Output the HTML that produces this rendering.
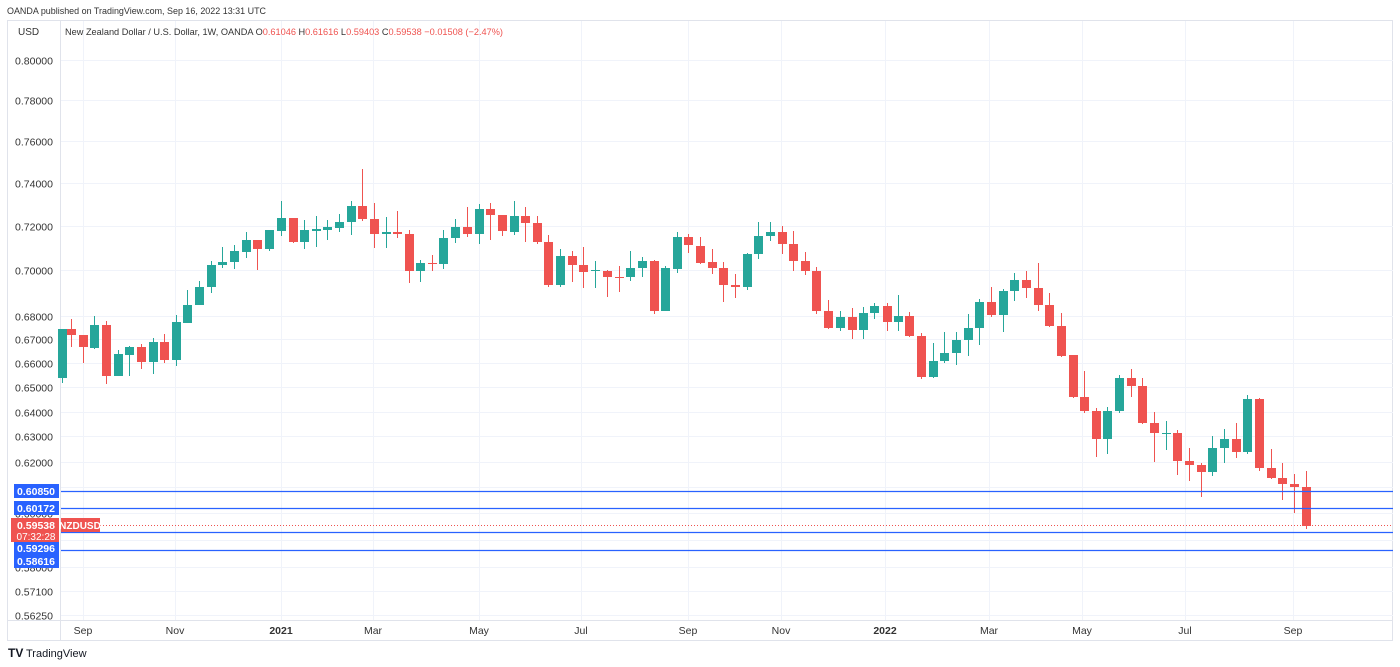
<!DOCTYPE html>
<html><head><meta charset="utf-8"><style>
body{margin:0;background:#fff;width:1400px;height:667px;overflow:hidden;font-family:"Liberation Sans",sans-serif}
svg{position:absolute;left:0;top:0}
</style></head><body>
<svg id="s" width="1400" height="667" viewBox="0 0 1400 667" font-family="Liberation Sans, sans-serif">
<rect width="1400" height="667" fill="#fff"/>
<text x="7" y="14" font-size="9.5" fill="#333" textLength="259" lengthAdjust="spacingAndGlyphs">OANDA published on TradingView.com, Sep 16, 2022 13:31 UTC</text>
<rect x="7.5" y="20.5" width="1385" height="620" fill="none" stroke="#e0e3eb"/>
<g id="grid"></g>
<line x1="60.5" y1="20" x2="60.5" y2="640" stroke="#e0e3eb"/>
<line x1="7" y1="620.5" x2="1393" y2="620.5" stroke="#e0e3eb"/>
<text x="18" y="35" font-size="10" fill="#333">USD</text>
<text x="65" y="35" font-size="9.5" fill="#333" textLength="438" lengthAdjust="spacingAndGlyphs">New Zealand Dollar / U.S. Dollar, 1W, OANDA  O<tspan fill="#ef5350">0.61046</tspan>  H<tspan fill="#ef5350">0.61616</tspan>  L<tspan fill="#ef5350">0.59403</tspan>  C<tspan fill="#ef5350">0.59538</tspan>  <tspan fill="#ef5350">−0.01508 (−2.47%)</tspan></text>
<g id="c"></g>
<g id="ov"></g>
<text x="8" y="657" font-size="12" font-weight="bold" fill="#131722">TV</text>
<text x="26" y="657" font-size="11" fill="#131722">TradingView</text>
</svg>
<script>
var ns="http://www.w3.org/2000/svg";
function el(p,t,a,txt){var e=document.createElementNS(ns,t);for(var k in a)e.setAttribute(k,a[k]);if(txt)e.textContent=txt;document.getElementById(p).appendChild(e);return e;}
function Y(p){return 60+1576*Math.log(0.8/p);}
var lv=[["0.80000",.8],["0.78000",.78],["0.76000",.76],["0.74000",.74],["0.72000",.72],["0.70000",.70],["0.68000",.68],["0.67000",.67],["0.66000",.66],["0.65000",.65],["0.64000",.64],["0.63000",.63],["0.62000",.62],["0.61000",.61],["0.60000",.60],["0.59000",.59],["0.58000",.58],["0.57100",.571],["0.56250",.5625]];
lv.forEach(function(l){var y=Math.round(Y(l[1]))+.5;el("grid","line",{x1:61,x2:1393,y1:y,y2:y,stroke:"#f0f3fa"});el("grid","text",{x:53,y:y+4,"font-size":10.5,fill:"#333","text-anchor":"end"},l[0]);});
var mo=[["Sep",83],["Nov",175],["2021",281],["Mar",373],["May",479],["Jul",581],["Sep",688],["Nov",781],["2022",885],["Mar",989],["May",1082],["Jul",1185],["Sep",1293]];
mo.forEach(function(m){el("grid","line",{x1:m[1]+.5,x2:m[1]+.5,y1:21,y2:620,stroke:"#f0f3fa"});el("grid","text",{x:m[1],y:634,"font-size":10.5,fill:"#333","text-anchor":"middle","font-weight":(m[0].length==4?"bold":"normal")},m[0]);});
var d=[[62,1,329,378,329,383],[71,0,329,335,319,347],[83,0,335,347,335,363],[94,1,325,348,316,349],[106,0,325,376,321,384],[118,1,354,376,350,376],[129,1,347,355,346,376],[141,0,347,362,344,369],[153,1,342,362,338,374],[164,0,342,360,334,363],[176,1,322,360,315,366],[187,1,305,323,290,323],[199,1,287,305,281,305],[211,1,265,287,261,293],[222,1,262,265,247,268],[234,1,251,262,245,269],[246,1,240,252,232,258],[257,0,240,249,240,270],[269,1,230,249,230,251],[281,1,218,231,201,236],[293,0,218,242,218,243],[304,1,230,242,220,249],[316,1,229,231,216,247],[327,1,227,230,220,240],[339,1,222,228,214,232],[351,1,206,222,201,235],[362,0,206,219,169,221],[374,0,219,234,203,248],[386,1,232,234,217,248],[397,0,232,234,211,238],[409,0,234,271,230,283],[420,1,263,271,260,282],[432,0,263,264,255,271],[443,1,238,264,230,269],[455,1,227,238,219,243],[467,0,227,234,207,237],[479,1,209,234,204,244],[490,0,209,215,203,240],[502,0,215,231,215,236],[514,1,216,232,201,235],[525,0,216,223,207,242],[537,0,223,242,216,244],[548,0,242,285,235,287],[560,1,256,285,249,287],[572,0,256,265,251,282],[583,0,265,272,247,288],[595,1,270,271,261,288],[607,0,271,277,270,297],[619,0,277,278,266,292],[630,1,268,277,251,281],[642,1,261,268,257,277],[654,0,261,311,260,314],[665,1,268,311,266,311],[677,1,237,269,232,273],[688,0,237,245,234,253],[700,0,246,263,237,264],[712,0,262,268,249,274],[723,0,268,285,262,302],[735,0,285,287,274,298],[747,1,254,287,253,290],[758,1,236,254,222,259],[770,1,232,236,222,241],[782,0,232,244,226,254],[793,0,244,261,231,271],[805,0,261,271,252,275],[816,0,271,311,267,314],[828,0,311,328,300,329],[840,1,317,328,311,331],[852,0,317,330,308,339],[863,1,313,330,307,339],[874,1,306,313,303,319],[887,0,306,322,303,331],[898,1,316,322,295,331],[909,0,316,336,312,337],[921,0,336,377,333,379],[933,1,361,377,343,378],[944,1,353,361,332,363],[956,1,340,353,332,365],[968,1,328,340,314,356],[979,1,302,328,299,345],[991,0,302,315,287,317],[1003,1,291,315,289,332],[1014,1,280,291,273,301],[1026,0,280,288,271,298],[1038,0,288,305,263,311],[1049,0,305,326,293,327],[1061,0,326,356,313,357],[1073,0,355,397,355,398],[1084,0,397,411,371,413],[1096,0,411,439,408,457],[1107,1,411,439,407,454],[1119,1,378,411,375,413],[1131,0,378,386,369,397],[1142,0,386,423,378,424],[1154,0,423,433,412,462],[1166,1,433,434,421,450],[1177,0,433,461,430,475],[1189,0,461,465,448,481],[1201,0,465,472,463,497],[1212,1,448,472,436,476],[1224,1,439,448,429,463],[1236,0,439,452,423,458],[1247,1,399,452,395,454],[1259,0,399,468,398,471],[1271,0,468,478,449,479],[1282,0,478,484,463,500],[1294,0,484,487,474,513],[1306,0,487,526,471,529]];
d.forEach(function(c){var col=c[1]?"#26a69a":"#ef5350";el("c","line",{x1:c[0]+.5,x2:c[0]+.5,y1:c[4],y2:c[5],stroke:col,"stroke-width":1});var h=Math.max(1,c[3]-c[2]);el("c","rect",{x:c[0]-4,y:c[2],width:9,height:h,fill:col});});
[[491,"0.60850"],[508,"0.60172"],[532,"0.59296"],[550,"0.58616"]].forEach(function(l){el("ov","line",{x1:61,x2:1393,y1:l[0]+.5,y2:l[0]+.5,stroke:"#2962ff","stroke-width":1.2});});
el("ov","line",{x1:100,x2:1393,y1:525.5,y2:525.5,stroke:"#ef5350","stroke-dasharray":"1,2"});
[[484,"0.60850"],[501,"0.60172"],[541,"0.59296"],[554,"0.58616"]].forEach(function(l){el("ov","rect",{x:14,y:l[0],width:45,height:14,fill:"#2962ff"});el("ov","text",{x:36,y:l[0]+11,"font-size":10.5,"font-weight":"bold",fill:"#fff","text-anchor":"middle"},l[1]);});
el("ov","rect",{x:11,y:518,width:48,height:24,fill:"#ef5350"});
el("ov","text",{x:36,y:529,"font-size":10.5,"font-weight":"bold",fill:"#fff","text-anchor":"middle"},"0.59538");
el("ov","text",{x:36,y:540,"font-size":10,fill:"#fff","text-anchor":"middle"},"07:32:28");
el("ov","rect",{x:61,y:518,width:39,height:14,fill:"#ef5350"});
el("ov","text",{x:80,y:529,"font-size":10,"font-weight":"bold",fill:"#fff","text-anchor":"middle"},"NZDUSD");
</script>
</body></html>
